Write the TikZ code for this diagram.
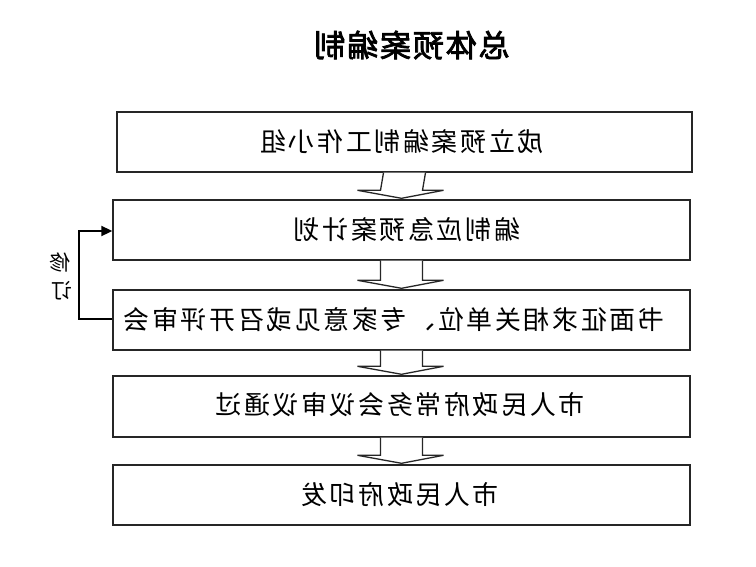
\documentclass[tikz,border=0pt]{standalone}
\usepackage{graphicx}
\usepackage{fontspec}
\newfontfamily\cjk[LetterSpace=10]{Noto Sans CJK SC}
\newfontfamily\cjktitle[FakeBold=2.5,LetterSpace=6]{Noto Sans CJK SC}
\usetikzlibrary{arrows.meta}
\begin{document}
\begin{tikzpicture}[x=1pt,y=-1pt,
  stepbox/.style={draw=black!85,line width=1.4pt,minimum height=60pt,inner sep=0pt},
  txt/.style={font=\cjk\fontsize{26}{26}\selectfont,inner sep=0pt},
  blockarrow/.style={draw=black!85,line width=1.3pt,fill=white,line join=miter},
  loopline/.style={draw=black,line width=2pt,-{Triangle[length=11pt,width=10pt]}}]
\useasboundingbox (0,0) rectangle (756,566);
% boxes
\node[stepbox,minimum width=575pt] (b1) at (404.5,142) {};
\node[stepbox,minimum width=577pt] (b2) at (401.5,230) {};
\node[stepbox,minimum width=577pt] (b3) at (401.5,320) {};
\node[stepbox,minimum width=577pt,minimum height=61pt] (b4) at (401.5,406.5) {};
\node[stepbox,minimum width=577pt] (b5) at (401.5,495) {};
% texts (mirrored as printed)
\node[font=\cjktitle\fontsize{31}{31}\selectfont,inner sep=0pt] (title) at (412,45) {\reflectbox{总体预案编制}};
\node[txt] (t1) at (402,142) {\reflectbox{成立预案编制工作小组}};
\node[txt] (t2) at (407,230) {\reflectbox{编制应急预案计划}};
\node[txt] (t3) at (394,320) {\reflectbox{书面征求相关单位、专家意见或召开评审会}};
\node[txt] (t4) at (400,405) {\reflectbox{市人民政府常务会议审议通过}};
\node[txt] (t5) at (400,495) {\reflectbox{市人民政府印发}};
\node[font=\cjk\fontsize{21}{21}\selectfont,inner sep=0pt] (x1) at (60,263) {\reflectbox{修}};
\node[font=\cjk\fontsize{21}{21}\selectfont,inner sep=0pt] (x2) at (62,291) {\reflectbox{订}};
% block arrows
\foreach \a/\b in {b1/b2,b2/b3,b3/b4,b4/b5}{
  \path (\a.south) coordinate (s) (\b.north) coordinate (e);
  \draw[blockarrow] ([xshift=-21pt]s) -- ([xshift=-21pt,yshift=9pt]e) -- ([xshift=-44pt,yshift=9pt]e) -- ([yshift=1pt]e)
     -- ([xshift=42pt,yshift=9pt]e) -- ([xshift=21pt,yshift=9pt]e) -- ([xshift=21pt]s);
}
% feedback loop
\coordinate (c1) at (79,319);
\coordinate (c2) at (79,231);
\draw[loopline] (b3.west |- c1) -- (c1) -- (c2) -- (b2.west |- c2);
\end{tikzpicture}
\end{document}
